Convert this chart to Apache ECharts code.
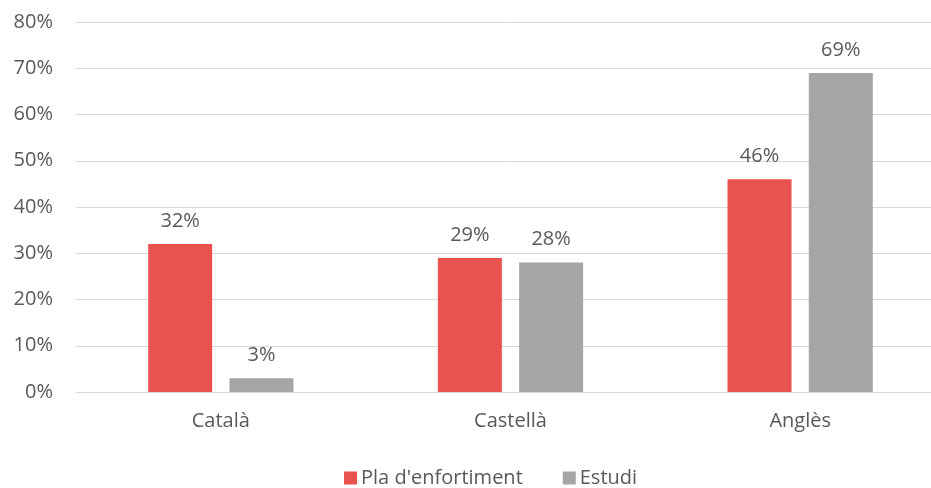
<!DOCTYPE html>
<html>
<head>
<meta charset="utf-8">
<script src="https://cdn.jsdelivr.net/npm/echarts@6/dist/echarts.min.js"></script>
<style>
html,body{margin:0;padding:0;background:#fff;overflow:hidden;}
#chart{width:945px;height:488px;}
</style>
</head>
<body>
<div id="chart"></div>
<script>
const categories = ['Català', 'Castellà', 'Anglès'];
const plaValues = [32, 29, 46];
const estudiValues = [3, 28, 69];
const seriesNames = ["Pla d'enfortiment", 'Estudi'];

const font = 'Open Sans';
const fs = 20;
const textColor = '#595959';
const chart = echarts.init(document.getElementById('chart'));
const labelCfg = {
  show: true, position: 'top', distance: 13,
  formatter: p => p.value + '%',
  color: textColor, fontSize: fs, fontFamily: font
};
chart.setOption({
  animation: false,
  grid: { left: 76, right: 0, top: 22, bottom: 96, containLabel: false },
  legend: {
    data: seriesNames,
    top: 463, left: 339,
    itemWidth: 13, itemHeight: 13, itemGap: 40,
    icon: 'rect',
    textStyle: { color: textColor, fontSize: fs, fontFamily: font, padding: [0, 0, 0, -1] }
  },
  xAxis: {
    type: 'category', data: categories,
    axisLine: { lineStyle: { color: '#d9d9d9' } },
    axisTick: { show: false },
    axisLabel: { color: textColor, fontSize: fs, fontFamily: font, margin: 19 }
  },
  yAxis: {
    type: 'value', min: 0, max: 80, interval: 10,
    axisLabel: { formatter: '{value}%', color: textColor, fontSize: fs, fontFamily: font, margin: 23 },
    splitLine: { lineStyle: { color: '#d9d9d9' } },
    axisLine: { show: false }, axisTick: { show: false }
  },
  series: [
    { name: seriesNames[0], type: 'bar', data: plaValues, barWidth: 64, barGap: '27%',
      itemStyle: { color: '#E8524F' }, label: labelCfg },
    { name: seriesNames[1], type: 'bar', data: estudiValues, barWidth: 64, barGap: '27%',
      itemStyle: { color: '#A5A5A5' }, label: labelCfg }
  ]
});
</script>
</body>
</html>
